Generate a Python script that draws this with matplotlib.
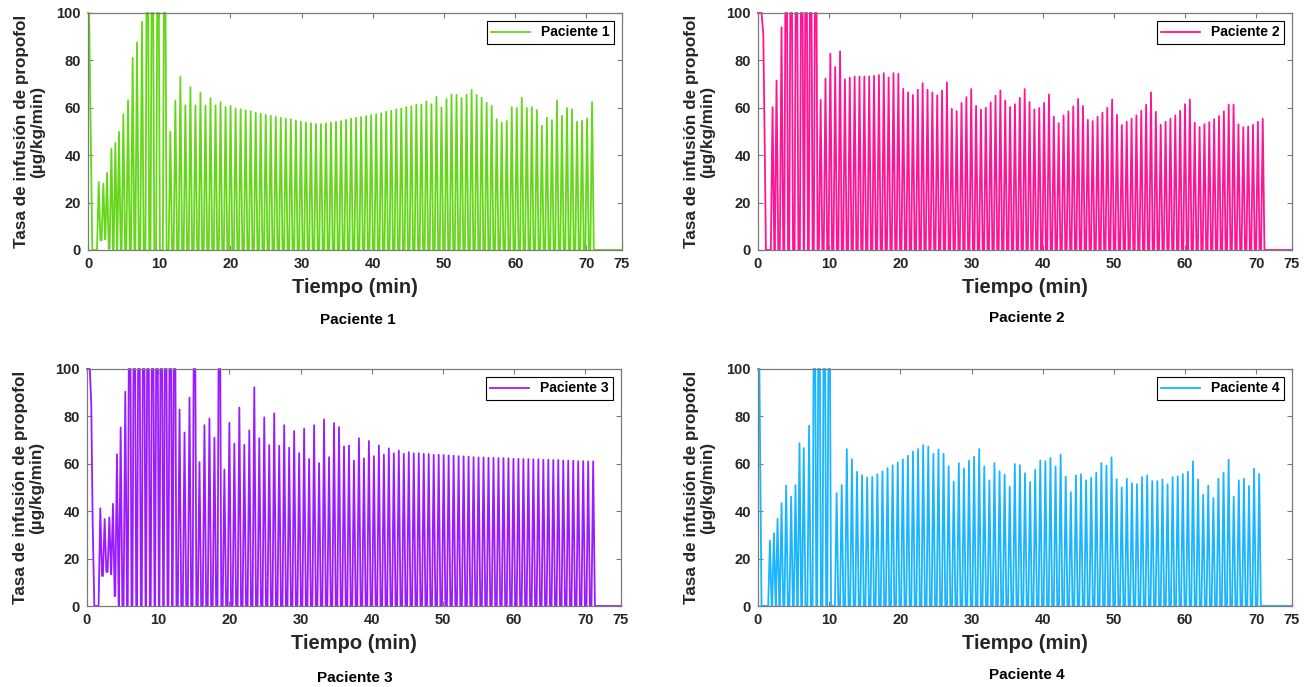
import numpy as np
import matplotlib.pyplot as plt

plt.rcParams['font.family'] = ['Liberation Sans', 'DejaVu Sans']
plt.rcParams['font.weight'] = 'bold'

# ---------------- Paciente 1 ----------------
p1_start_t = [0, 0.15, 0.6, 1.28]
p1_start_y = [100, 100, 0, 0]
p1_early_t = [1.5, 2.15, 2.67, 3.28, 3.84, 4.35, 4.96, 5.62, 6.27, 6.88, 7.58, 8.33, 9.04, 9.83, 10.77]
p1_early_pk = [28.7, 28.0, 32.5, 42.8, 45.2, 49.9, 57.2, 63.2, 81.1, 87.6, 96.3, 100, 100, 100, 100]
p1_early_low = [4.1, 4.5, 0.5, 0, 0, 0, 0, 0, 0, 0, 0, 0, 0, 0, 0]
p1_t0, p1_t1 = 11.56, 70.8
p1_pk = [49.9, 63.0, 73.1, 61.1, 68.7, 61.0, 66.3, 61.0, 64.0, 61.0,
         62.4, 60.3, 60.8, 59.6, 59.3, 58.9, 58.5, 57.9, 57.5, 57.0,
         56.6, 56.2, 55.8, 55.4, 55.1, 54.6, 54.2, 53.8, 53.5, 53.2,
         53.1, 53.4, 53.7, 54.1, 54.4, 54.9, 55.4, 55.8, 56.1, 56.5,
         56.9, 57.3, 57.7, 58.3, 58.7, 59.3, 59.7, 60.3, 60.6, 61.3,
         61.3, 62.7, 61.5, 64.6, 60.1, 63.7, 65.6, 65.5, 64.1, 65.5,
         67.6, 65.4, 64.2, 62.1, 60.8, 55.2, 53.7, 54.4, 60.3, 59.9,
         64.2, 59.9, 60.3, 59.0, 52.4, 55.8, 54.8, 63.1, 56.6, 59.9,
         59.3, 54.1, 54.6, 55.5, 62.4]

# ---------------- Paciente 2 ----------------
p2_start_t = [0, 0.5, 0.75, 0.93, 1.12, 1.8]
p2_start_y = [100, 100, 91, 49, 0, 0]
p2_early_t = [2.05, 2.61, 3.31, 3.96, 4.66, 5.41, 6.15, 6.76, 7.41, 8.11]
p2_early_pk = [60.3, 71.5, 94.0, 100, 100, 100, 100, 100, 100, 100]
p2_early_low = [0] * 10
p2_t0, p2_t1 = 8.8, 70.9
p2_pk = [63.4, 72.3, 82.8, 77.2, 83.8, 72.0, 72.7, 73.2, 73.2, 73.2,
         73.2, 73.5, 73.8, 74.6, 72.8, 74.6, 74.4, 68.0, 66.5, 65.4,
         67.6, 70.4, 67.6, 66.5, 65.2, 67.3, 70.7, 59.6, 58.6, 62.0,
         64.5, 67.9, 60.8, 59.2, 60.0, 62.3, 65.1, 67.3, 63.1, 60.3,
         61.5, 64.2, 67.9, 62.4, 59.3, 59.9, 62.1, 65.6, 56.3, 53.5,
         56.8, 58.5, 60.6, 63.7, 60.8, 54.9, 54.4, 56.2, 58.0, 60.0,
         63.5, 57.0, 52.7, 54.1, 55.4, 56.8, 58.7, 61.3, 66.5, 58.3,
         52.8, 54.1, 55.4, 56.8, 58.7, 61.5, 63.5, 53.7, 51.8, 53.1,
         53.9, 55.2, 56.5, 58.5, 61.3, 61.3, 53.0, 51.8, 52.1, 52.8,
         54.1, 55.4]

# ---------------- Paciente 3 ----------------
p3_start_t = [0, 0.4, 0.6, 0.8, 1.03, 1.5]
p3_start_y = [100, 100, 85, 35, 0, 0]
p3_early_t = [1.87, 2.48, 3.14, 3.65, 4.21, 4.73, 5.38, 5.99, 6.65, 7.3, 7.96, 8.57,
              9.22, 9.83, 10.44, 11.05, 11.7, 12.3]
p3_early_pk = [41.2, 36.7, 37.4, 43.1, 64.0, 75.3, 90.4, 100, 100, 100, 100, 100,
               100, 100, 100, 100, 100, 100]
p3_early_low = [12.7, 14.4, 13.4, 4.2, 0, 0, 0, 0, 0, 0, 0, 0, 0, 0, 0, 0, 0, 0]
p3_t0, p3_t1 = 13.0, 71.1
p3_pk = [82.9, 73.2, 87.9, 100, 60.7, 76.3, 79.1, 71.0, 100, 57.6,
         77.3, 68.5, 83.7, 68.0, 74.1, 92.3, 70.8, 79.6, 67.9, 81.3,
         67.6, 76.3, 66.8, 73.8, 64.5, 74.8, 62.0, 76.3, 60.3, 78.7,
         62.8, 77.2, 75.5, 67.3, 67.7, 61.3, 70.8, 62.3, 69.6, 63.2,
         67.7, 63.9, 66.5, 64.4, 65.6, 64.2, 64.9, 64.4, 64.5, 64.2,
         64.1, 63.8, 63.8, 63.7, 63.5, 63.4, 63.2, 63.1, 63.0, 62.8,
         62.7, 62.7, 62.5, 62.5, 62.4, 62.4, 62.3, 62.1, 62.1, 62.0,
         62.0, 61.9, 61.9, 61.7, 61.7, 61.6, 61.6, 61.4, 61.4, 61.3,
         61.1, 61.1, 61.0, 61.0]

# ---------------- Paciente 4 ----------------
p4_start_t = [0, 0.2, 0.5, 1.45]
p4_start_y = [100, 100, 0, 0]
p4_early_t = [1.68, 2.24, 2.75, 3.31, 3.96, 4.66, 5.27, 5.83, 6.43, 7.18, 7.93, 8.58, 9.32, 10.0]
p4_early_pk = [27.6, 30.7, 36.8, 43.4, 50.8, 46.2, 51.0, 68.7, 66.6, 76.1, 100, 100, 100, 100]
p4_early_low = [0] * 14
p4_t0, p4_t1 = 11.05, 70.4
p4_pk = [47.6, 51.0, 66.2, 61.9, 56.6, 55.2, 54.2, 54.4, 55.6, 56.8,
         58.2, 59.4, 60.6, 61.9, 63.4, 65.2, 66.2, 67.9, 67.3, 64.2,
         66.0, 64.2, 58.9, 52.5, 60.3, 58.0, 61.3, 63.0, 66.2, 58.9,
         53.0, 60.3, 56.8, 55.4, 50.4, 59.9, 59.4, 56.0, 52.3, 57.5,
         61.4, 61.1, 62.4, 58.9, 63.8, 54.6, 48.0, 55.1, 55.6, 53.0,
         54.1, 56.3, 60.3, 59.2, 62.7, 53.5, 50.0, 53.7, 51.8, 51.4,
         54.4, 55.1, 52.7, 52.7, 53.4, 51.3, 54.4, 54.6, 55.6, 56.6,
         61.0, 53.4, 46.9, 50.8, 45.5, 53.7, 56.2, 61.7, 46.1, 53.0,
         53.7, 50.7, 57.9, 55.6]

patients = [
    ('Paciente 1', '#66D61A', p1_start_t, p1_start_y, p1_early_t, p1_early_pk, p1_early_low, p1_t0, p1_t1, p1_pk),
    ('Paciente 2', '#FF1493', p2_start_t, p2_start_y, p2_early_t, p2_early_pk, p2_early_low, p2_t0, p2_t1, p2_pk),
    ('Paciente 3', '#9B1BFF', p3_start_t, p3_start_y, p3_early_t, p3_early_pk, p3_early_low, p3_t0, p3_t1, p3_pk),
    ('Paciente 4', '#1AB4FF', p4_start_t, p4_start_y, p4_early_t, p4_early_pk, p4_early_low, p4_t0, p4_t1, p4_pk),
]


def signal(start_t, start_y, early_t, early_pk, early_low, t0, t1, pk, w=0.24, flat=0.12):
    xs = list(start_t)
    ys = list(start_y)
    times = list(early_t) + list(np.linspace(t0, t1, len(pk)))
    peaks = list(early_pk) + list(pk)
    lows = list(early_low) + [0] * len(pk)
    prev = 0
    for ti, p, lo in zip(times, peaks, lows):
        if p >= 100:
            xs += [ti - flat - w * 0.6, ti - flat, ti + flat, ti + flat + w * 0.6]
            ys += [prev, 100, 100, lo]
        else:
            xs += [ti - w, ti, ti + w]
            ys += [prev, p, lo]
        prev = lo
    xs.append(75)
    ys.append(0)
    return xs, ys


fig = plt.figure(figsize=(13.1, 6.87), dpi=100)
boxes = [(0.0672, 0.6361), (0.5786, 0.6361), (0.0664, 0.1179), (0.5786, 0.1179)]
captions = [(0.2733, 0.534), (0.784, 0.537), (0.271, 0.013), (0.784, 0.0175)]
gray = '#7a7a7a'
txt = '#262626'

for (name, col, st, sy, et, ep, el, t0, t1, pk), (l, b), (cx, cy) in zip(patients, boxes, captions):
    ax = fig.add_axes([l, b, 0.4076, 0.345])
    x, y = signal(st, sy, et, ep, el, t0, t1, pk)
    ax.plot(x, y, color=col, lw=1.3, label=name, clip_on=False)
    ax.set_xlim(0, 75)
    ax.set_ylim(0, 100)
    ax.set_xticks([0, 10, 20, 30, 40, 50, 60, 70, 75])
    ax.set_yticks([0, 20, 40, 60, 80, 100])
    ax.tick_params(direction='in', length=3.5, width=0.8, colors=gray, labelcolor=txt,
                   labelsize=10.5, top=True, right=True, pad=5)
    for lab in ax.get_xticklabels() + ax.get_yticklabels():
        lab.set_fontweight('bold')
    for s in ax.spines.values():
        s.set_color(gray)
        s.set_linewidth(0.9)
    ax.set_xlabel('Tiempo (min)', fontsize=14.5, fontweight='bold', color=txt, labelpad=5)
    ax.set_ylabel('Tasa de infusión de propofol\n(µg/kg/min)', fontsize=12.3, fontweight='bold',
                  color=txt, labelpad=8, linespacing=1.15)
    leg = ax.legend(loc='upper right', fancybox=False, edgecolor='black', framealpha=1,
                    prop={'weight': 'bold', 'size': 10}, handlelength=2.8, borderpad=0.3,
                    borderaxespad=0.6)
    leg.get_frame().set_linewidth(0.8)
    fig.text(cx, cy, name, ha='center', va='center', fontsize=11, fontweight='bold', color='black')

fig.savefig('out.png', dpi=100)
